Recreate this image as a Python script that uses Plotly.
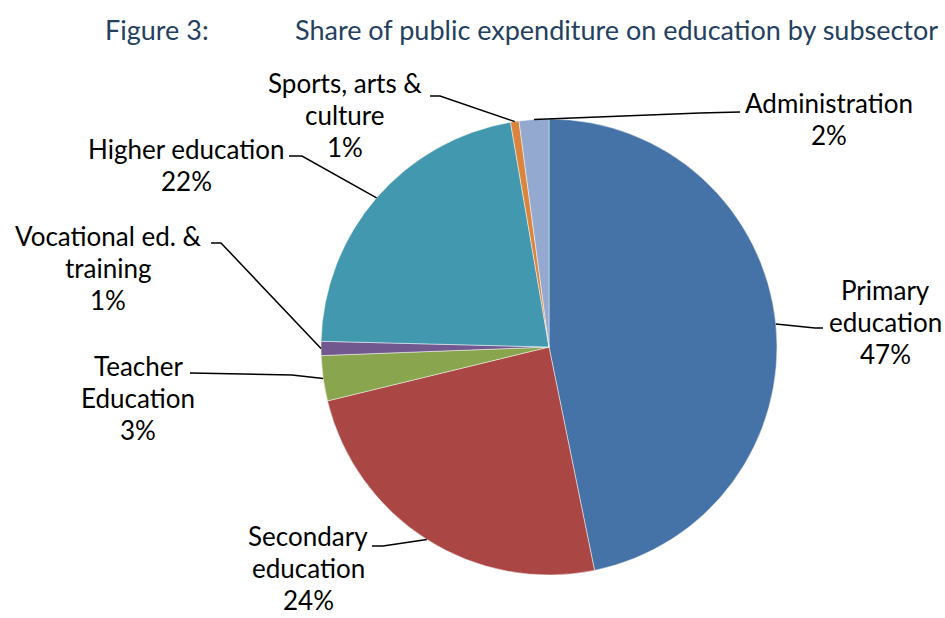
import math
import plotly.graph_objects as go

# Share of public expenditure on education, by subsector (percent)
categories = [
    "Primary<br>education",
    "Secondary<br>education",
    "Teacher<br>Education",
    "Vocational ed. &<br>training",
    "Higher education",
    "Sports, arts &<br>culture",
    "Administration",
]
shares = [46.8, 24.4, 3.2, 1.0, 21.9, 0.6, 2.1]
colors = ["#4572A7", "#AA4643", "#89A54E", "#71588F", "#4198AF", "#DB843D", "#93A9CF"]

W, H = 945, 618
CX, CY, R = 549, 347, 228          # pie centre / radius in pixels (from top-left)
LINE_PITCH = 32                    # vertical spacing between label lines (px)

# label block centres (pixels) and leader-line elbow points
label_pos = [(885, 322), (308, 568), (138, 398), (108, 268), (186, 165), (345, 115), (829, 119)]
elbows = [
    [(815, 328), (823, 328)],
    [(383, 546), (372, 546)],
    [(292, 375), (190, 373)],
    [(221, 243), (211, 243)],
    [(302, 156), (289, 156)],
    [(440, 96), (430, 96)],
    [(700, 113), (740, 112)],
]

FONT = "Lato"
total = sum(shares)

fig = go.Figure(
    go.Pie(
        labels=categories,
        values=shares,
        marker=dict(colors=colors, line=dict(color="rgba(255,255,255,0.6)", width=0.8)),
        sort=False,
        direction="clockwise",
        rotation=0,
        textinfo="none",
        hoverinfo="label+percent",
        domain=dict(
            x=[(CX - R) / W, (CX + R) / W],
            y=[(H - CY - R) / H, (H - CY + R) / H],
        ),
        showlegend=False,
    )
)

def px(x, y):
    return x / W, 1 - y / H

shapes = []
annotations = []
cum = 0.0
for cat, v, (lx, ly), pts in zip(categories, shares, label_pos, elbows):
    mid = (cum + v / 2) / total * 2 * math.pi
    cum += v
    ax = CX + R * math.sin(mid)
    ay = CY - R * math.cos(mid)
    path_pts = [(ax, ay)] + pts
    d = ""
    for i, (x, y) in enumerate(path_pts):
        X, Y = px(x, y)
        d += ("M" if i == 0 else " L") + f"{X:.5f},{Y:.5f}"
    shapes.append(dict(type="path", path=d, xref="paper", yref="paper",
                       line=dict(color="black", width=1.5)))
    pct = round(v / total * 100)
    lines = cat.split("<br>") + [f"{pct}%"]
    top = ly - LINE_PITCH * (len(lines) - 1) / 2
    for k, line in enumerate(lines):
        X, Y = px(lx, top + k * LINE_PITCH)
        annotations.append(dict(
            x=X, y=Y, xref="paper", yref="paper", xanchor="center", yanchor="middle",
            text=line, showarrow=False, align="center",
            font=dict(family=FONT, size=26, color="black"),
        ))

title_color = "#243F60"
for txt, x in [("Figure 3:", 103), ("Share of public expenditure on education by subsector", 293)]:
    X, Y = px(x, 30)
    annotations.append(dict(
        x=X, y=Y, xref="paper", yref="paper", xanchor="left", yanchor="middle",
        text=txt, showarrow=False, font=dict(family=FONT, size=27, color=title_color),
    ))

fig.update_layout(
    width=W, height=H,
    margin=dict(l=0, r=0, t=0, b=0),
    paper_bgcolor="white", plot_bgcolor="white",
    shapes=shapes, annotations=annotations,
)

fig.write_html("out.html")
